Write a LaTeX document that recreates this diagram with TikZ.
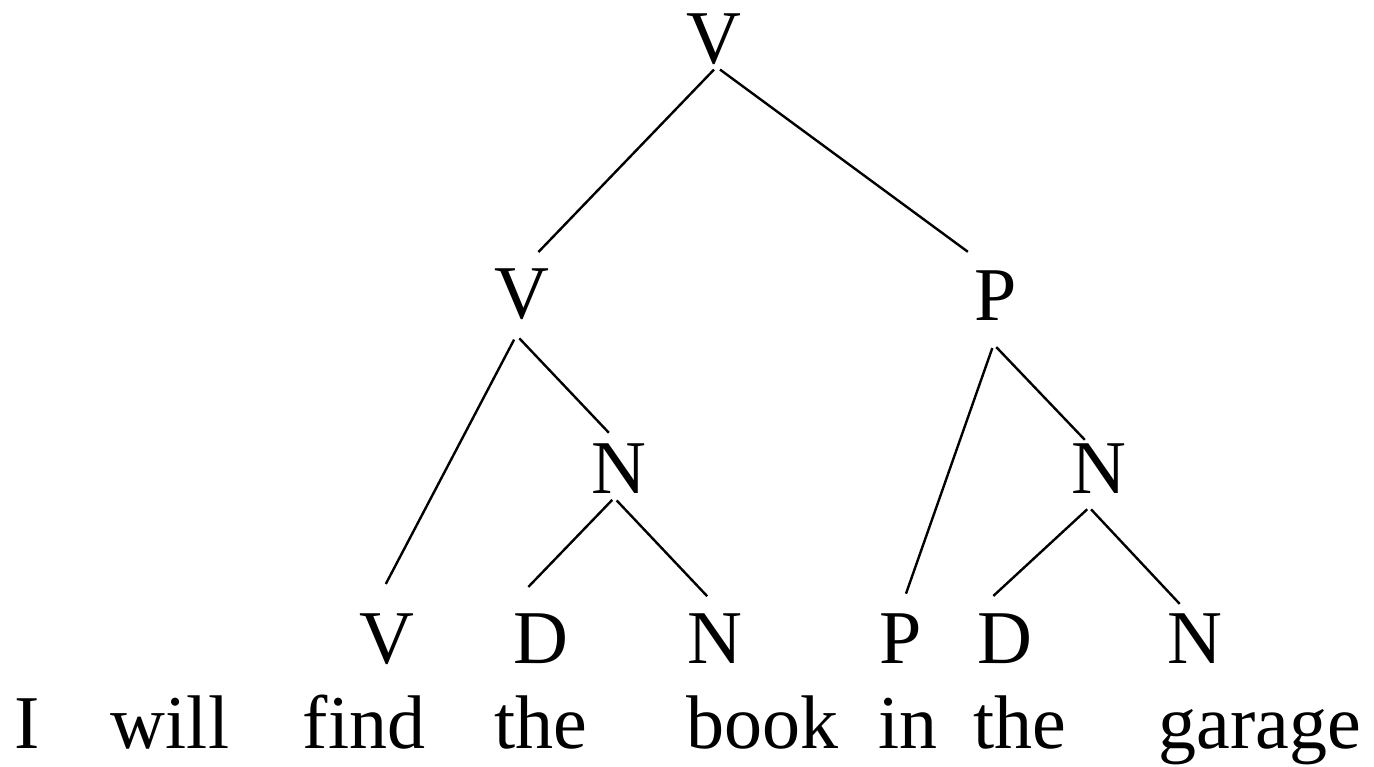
\documentclass[tikz,border=0pt]{standalone}
\usepackage{fontspec}
\setmainfont{Liberation Serif}
\usepackage{tikz}

\tikzset{
  cat/.style={anchor=base, inner sep=2.5pt, font=\fontsize{38pt}{45pt}\selectfont},
  word/.style={anchor=base, inner sep=0pt, font=\fontsize{38pt}{45pt}\selectfont},
  branch/.style={line width=1.2pt}
}

\begin{document}
\begin{tikzpicture}[x=0.5pt, y=-0.5pt]%
\useasboundingbox (0,0) rectangle (1374,766);%
% categories
\node[cat] (vtop) at (714, 63) {V};%
\node[cat] (vmid) at (522, 318) {V};%
\node[cat] (pmid) at (996, 320) {P};%
\node[cat] (nleft) at (619, 493) {N};%
\node[cat] (nright) at (1099, 493) {N};%
\node[cat] (vleaf) at (387, 663) {V};%
\node[cat] (dleft) at (541, 663) {D};%
\node[cat] (nleafl) at (715, 663) {N};%
\node[cat] (pleaf) at (901, 663) {P};%
\node[cat] (dright) at (1005, 663) {D};%
\node[cat] (nleafr) at (1195, 663) {N};%
% sentence
\node[word] (w1) at (27, 748) {I};%
\node[word] (w2) at (170, 748) {will};%
\node[word] (w3) at (364, 748) {find};%
\node[word] (w4) at (541, 748) {the};%
\node[word] (w5) at (762, 748) {book};%
\node[word] (w6) at (908, 748) {in};%
\node[word] (w7) at (1020, 748) {the};%
\node[word] (w8) at (1260, 748) {garage};%
% branches
\draw[branch, shorten >=7.5pt] (vtop.south) -- (vmid.79);%
\draw[branch, shorten >=11pt] (vtop.281) -- (pmid.109);%
\draw[branch, shorten <=8.5pt, shorten >=13.5pt] (vmid.south) -- (vleaf.114);%
\draw[branch, shorten <=9.5pt, shorten >=3.5pt] (vmid.243) -- (nleft.100);%
\draw[branch, shorten <=1pt, shorten >=14.5pt] (nleft.260) -- (dleft.north west);%
\draw[branch, shorten <=1.4pt, shorten >=8pt] (nleft.262) -- (nleafl.84);%
\draw[branch, shorten <=12pt, shorten >=7.5pt] (pmid.278) -- (pleaf.north);%
\draw[branch, shorten <=15pt, shorten >=-1.4pt] (pmid.236) -- (nright.118);%
\draw[branch, shorten <=8pt, shorten >=8.8pt] (nright.south) -- (dright.129);%
\draw[branch, shorten <=7.5pt, shorten >=2.7pt] (nright.239) -- (nleafr.111);%
\end{tikzpicture}
\end{document}
